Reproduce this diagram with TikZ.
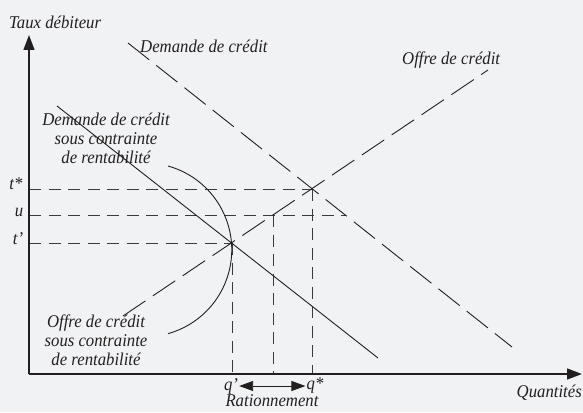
\documentclass[tikz,border=0pt]{standalone}
\usepackage{fontspec}
\setmainfont[ItalicFeatures={FakeStretch=0.93}]{Liberation Serif}
\usetikzlibrary{arrows.meta}
\definecolor{bg}{HTML}{F1F2F4}
\definecolor{ink}{HTML}{231F20}
\definecolor{dashink}{HTML}{3A3A3C}
\tikzset{
  lbl/.style={font=\fontsize{18}{19}\selectfont\itshape, text=ink, inner sep=0pt, align=center},
  axisline/.style={draw=ink, line width=1.3pt, -{Triangle[length=15pt,width=11pt]}},
  longdash/.style={draw=ink, line width=0.9pt, dash pattern=on 27pt off 9pt},
  shortdash/.style={draw=dashink, line width=0.9pt, dash pattern=on 12pt off 7.5pt},
  solidcurve/.style={draw=ink, line width=0.9pt},
}
\begin{document}
\begin{tikzpicture}[x=1pt,y=-1pt]
\fill[bg] (0,0) rectangle (583,412);
\useasboundingbox (0,0) rectangle (583,412);
% key coordinates
\coordinate (O) at (29,374);
\coordinate (Ytip) at (29,35);
\coordinate (Xtip) at (582,374);
\coordinate (Estar) at (312,189);
\coordinate (Eprime) at (232,243);
\coordinate (U) at (273.5,215);
\coordinate (D1) at (128,43);
\coordinate (D2) at (512,347);
\coordinate (S1) at (123,316);
\coordinate (S2) at (488,70);
\coordinate (C1) at (57,106);
\coordinate (C2) at (378,358);
\coordinate (tstarL) at (29,189);
\coordinate (uL) at (29,215);
\coordinate (uR) at (346,215);
\coordinate (tpL) at (29,243);
\coordinate (qpB) at (232,374);
\coordinate (uB) at (273.5,374);
\coordinate (qsB) at (312,374);
% dashed guide lines
\draw[shortdash] (tstarL) -- (Estar);
\draw[shortdash] (uL) -- (uR);
\draw[shortdash] (tpL) -- (Eprime);
\draw[shortdash] (Eprime) -- (qpB);
\draw[shortdash] (U) -- (uB);
\draw[shortdash] (Estar) -- (qsB);
% curves
\draw[longdash] (D1) -- (D2);
\draw[longdash] (S1) -- (S2);
\draw[solidcurve] (C1) -- (C2);
% arc
\coordinate (arcTop) at (168,166);
\draw[solidcurve] (arcTop) arc[start angle=-74.5, end angle=74.5, radius=87];
% axes
\draw[axisline] (O) -- (Ytip);
\draw[axisline] (O) -- (Xtip);
% labels
\node[lbl, anchor=west] (ylab) at (9,22) {Taux débiteur};
\node[lbl, anchor=east] (xlab) at (582,393) {Quantités};
\node[lbl, anchor=west] (dlab) at (140,46) {Demande de crédit};
\node[lbl, anchor=west] (slab) at (402,60) {Offre de crédit};
\node[lbl] (dclab) at (106,138) {Demande de crédit\\sous contrainte\\de rentabilité};
\node[lbl] (sclab) at (96,340) {Offre de crédit\\sous contrainte\\de rentabilité};
\node[lbl] (tstar) at (16,184) {t*};
\node[lbl] (ulab) at (19,212) {u};
\node[lbl] (tprime) at (18,239) {t’};
\node[lbl] (qprime) at (231,386) {q’};
\node[lbl] (qstar) at (315,386) {q*};
\node[lbl] (ration) at (272,401) {Rationnement};
\draw[draw=ink, line width=0.9pt, {Triangle[length=14pt,width=10pt]}-{Triangle[length=14pt,width=10pt]}] (qprime.east) ++(1,0) coordinate (ra) (qstar.west) ++(-1,0) coordinate (rb) (ra) -- (rb);
\end{tikzpicture}
\end{document}
